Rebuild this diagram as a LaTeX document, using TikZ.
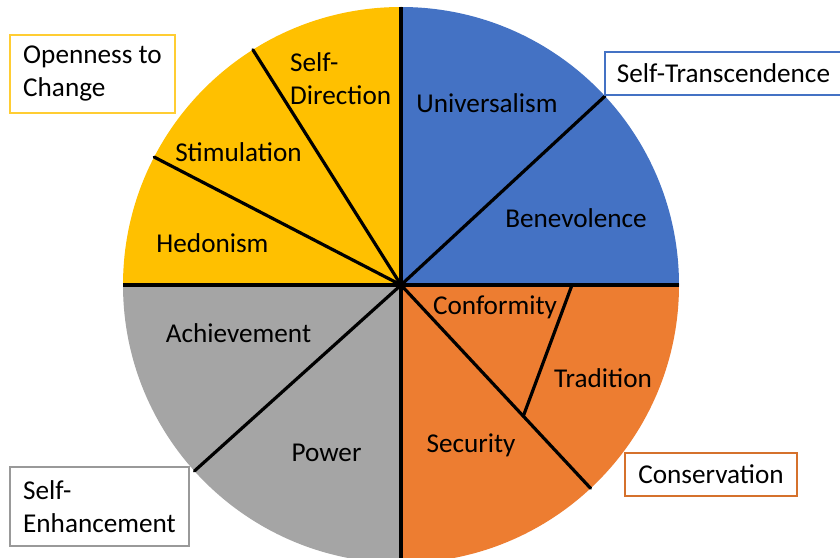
\documentclass[tikz,border=0pt]{standalone}
\usepackage{fontspec}
\setmainfont{Carlito}
\usepackage{tikz}
\usetikzlibrary{calc}
\definecolor{ValYellow}{HTML}{FFC000}
\definecolor{ValBlue}{HTML}{4472C4}
\definecolor{ValOrange}{HTML}{ED7D31}
\definecolor{ValGrey}{HTML}{A5A5A5}
\newcommand{\wheelfont}{\fontsize{27.2}{33}\selectfont}

\begin{document}
\begin{tikzpicture}[x=1pt, y=1pt,
  lbl/.style={font=\wheelfont, text=black, inner sep=0pt},
  grp/.style={draw, line width=1.3pt, fill=white, font=\wheelfont,
              text=black, align=left, inner xsep=12pt},
  divider/.style={line width=3.2pt, line cap=round}]
  \useasboundingbox (0,0) rectangle (840,557);
  \fill[white] (0,0) rectangle (840,557);
  \def\R{278}
  \coordinate (c) at (401,272);
  % quarters of the wheel
  \fill[ValBlue]   (c) -- ++(0:\R)   arc[start angle=0,   end angle=90,  radius=\R] -- cycle;
  \fill[ValYellow] (c) -- ++(90:\R)  arc[start angle=90,  end angle=180, radius=\R] -- cycle;
  \fill[ValGrey]   (c) -- ++(180:\R) arc[start angle=180, end angle=270, radius=\R] -- cycle;
  \fill[ValOrange] (c) -- ++(270:\R) arc[start angle=270, end angle=360, radius=\R] -- cycle;
  % rim points
  \coordinate (top)   at ($(c)+(90:\R)$);
  \coordinate (bot)   at ($(c)+(270:\R)$);
  \coordinate (left)  at ($(c)+(180:\R)$);
  \coordinate (right) at ($(c)+(0:\R)$);
  \coordinate (rimSD)  at ($(c)+(122.2:\R)$);
  \coordinate (rimST)  at ($(c)+(152.6:\R)$);
  \coordinate (rimUB)  at ($(c)+(42.8:\R)$);
  \coordinate (rimAP)  at ($(c)+(222:\R)$);
  \coordinate (rimSec) at ($(c)+(-47:\R)$);
  \coordinate (tradA) at (572,272);
  \coordinate (tradB) at ($(c)!0.645!(rimSec)$);
  \draw[line width=3.8pt] (left) -- (right);
  \draw[line width=3.4pt] (top) -- (bot);
  \draw[divider] (c) -- (rimSD);
  \draw[divider] (c) -- (rimST);
  \draw[divider] (c) -- (rimUB);
  \draw[divider] (c) -- (rimAP);
  \draw[divider] (c) -- (rimSec);
  \draw[divider] (tradA) -- (tradB);
  % value labels
  \node[lbl, anchor=west, align=left] (selfdir) at (290,478.5) {Self-\\Direction};
  \node[lbl] (stim) at (238.5,405) {Stimulation};
  \node[lbl] (hedo) at (212.5,314) {Hedonism};
  \node[lbl] (univ) at (487,454) {Universalism};
  \node[lbl] (bene) at (576,339) {Benevolence};
  \node[lbl] (conf) at (495,250) {Conformity};
  \node[lbl] (trad) at (603,179) {Tradition};
  \node[lbl] (secu) at (471,112) {Security};
  \node[lbl] (achi) at (238.5,224) {Achievement};
  \node[lbl] (powr) at (326.5,104) {Power};
  % higher-order groups
  \node[grp, draw=ValYellow!80, minimum width=165, minimum height=78]
        (open) at (92.5,483) {Openness to\\Change};
  \node[grp, draw=ValBlue, minimum width=229, minimum height=43]
        (trans) at (723.5,483.5) {Self-Transcendence};
  \node[grp, draw=ValOrange!90!black, minimum width=172, minimum height=43]
        (cons) at (711,82.5) {Conservation};
  \node[grp, draw=black!40, minimum width=179, minimum height=79]
        (enh) at (99.5,50.5) {Self-\\Enhancement};
\end{tikzpicture}
\end{document}
